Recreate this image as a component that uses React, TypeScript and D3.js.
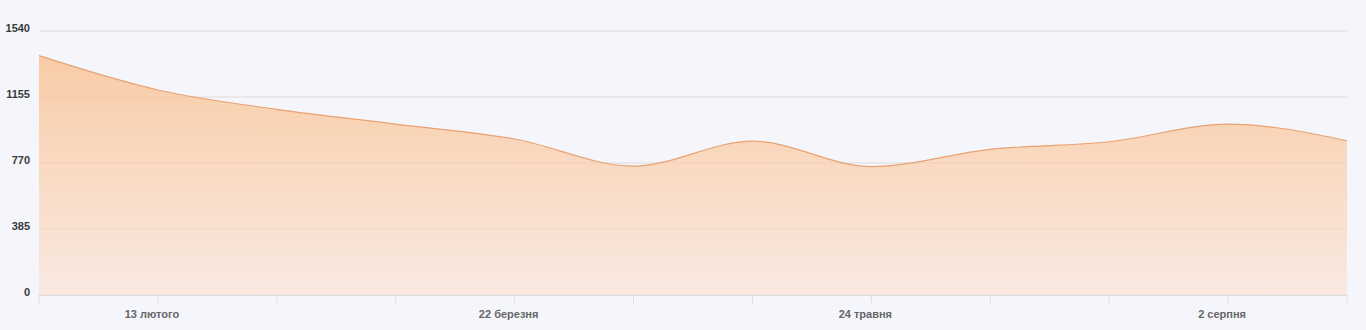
import React from "react";
import * as d3 from "d3";

const categories = [
  "1 лютого", "13 лютого", "25 лютого", "10 березня", "22 березня", "12 квітня",
  "3 травня", "24 травня", "15 червня", "8 липня", "2 серпня", "25 серпня",
];
const values = [1396, 1196, 1083, 997, 910, 752, 898, 749, 850, 894, 997, 900];
const yTicks = [0, 385, 770, 1155, 1540];
const labelEvery = 3;
const labelOffset = 1;

const W = 1366;
const H = 330;
const margin = { left: 39, right: 19, top: 31, bottom: 35 };

export default function App() {
  React.useEffect(() => {
    document.body.style.margin = "0";
  }, []);
  const x = d3
    .scalePoint<string>()
    .domain(categories)
    .range([margin.left, W - margin.right]);
  const y = d3.scaleLinear().domain([0, 1540]).range([H - margin.bottom, margin.top]);
  const pts = categories.map((c, i) => [x(c) as number, y(values[i])] as [number, number]);
  const area = d3
    .area<[number, number]>()
    .x((d) => d[0])
    .y0(y(0))
    .y1((d) => d[1])
    .curve(d3.curveMonotoneX)(pts) as string;
  const line = d3
    .line<[number, number]>()
    .x((d) => d[0])
    .y((d) => d[1])
    .curve(d3.curveMonotoneX)(pts) as string;
  const font = "'Liberation Sans', Arial, sans-serif";
  return (
    <svg width={W} height={H} style={{ position: "absolute", left: 0, top: 0, display: "block" }}>
      <defs>
        <linearGradient id="fillGrad" x1="0" y1="0" x2="0" y2="1">
          <stop offset="0%" stopColor="#f9ccA6" />
          <stop offset="100%" stopColor="#f9e9e2" />
        </linearGradient>
      </defs>
      <rect x={0} y={0} width={W} height={H} fill="#f5f6fb" />
      {yTicks.map((t) => (
        <g key={t}>
          <line
            x1={margin.left}
            x2={W - margin.right}
            y1={y(t)}
            y2={y(t)}
            stroke="#e4e4ea"
            strokeWidth={1}
          />
          <text
            x={30}
            y={y(t) + 1}
            textAnchor="end"
            fontFamily={font}
            fontSize={11}
            fontWeight="bold"
            fill="#3a3a3a"
          >
            {t}
          </text>
        </g>
      ))}
      <path d={area} fill="url(#fillGrad)" />
      {yTicks.map((t) => (
        <line
          key={"g" + t}
          x1={margin.left}
          x2={W - margin.right}
          y1={y(t)}
          y2={y(t)}
          stroke="#c89070"
          strokeOpacity={0.12}
          strokeWidth={1}
        />
      ))}
      <path d={line} fill="none" stroke="#e9a272" strokeWidth={1.2} />
      <line
        x1={margin.left}
        x2={W - margin.right}
        y1={y(0) + 0.5}
        y2={y(0) + 0.5}
        stroke="#dcdce4"
      />
      {categories.map((c) => (
        <line
          key={c}
          x1={x(c)}
          x2={x(c)}
          y1={y(0)}
          y2={y(0) + 8}
          stroke="#dcdce4"
        />
      ))}
      {categories.map((c, i) =>
        i % labelEvery === labelOffset ? (
          <text
            key={"l" + c}
            x={(x(c) as number) - 6}
            y={318}
            textAnchor="middle"
            fontFamily={font}
            fontSize={11}
            fontWeight="bold"
            fill="#666"
          >
            {c}
          </text>
        ) : null
      )}
    </svg>
  );
}
